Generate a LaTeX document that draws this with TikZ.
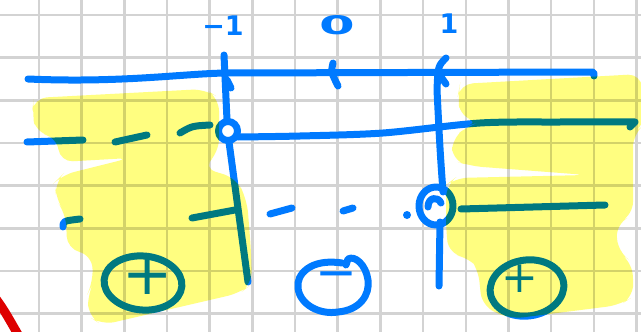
\documentclass[tikz,border=0pt]{standalone}
\usepackage{fontspec}
\setmainfont{DejaVu Sans}
\definecolor{pen}{RGB}{0,122,255}
\definecolor{hl}{RGB}{255,254,128}
\definecolor{gridc}{RGB}{211,211,211}
\definecolor{redpen}{RGB}{222,0,0}
\begin{document}
\begin{tikzpicture}[x=1pt,y=-1pt,
  ink/.style={draw=pen,line width=7pt,line cap=round,line join=round},
  gridline/.style={draw=gridc,line width=2.4pt},
  lbl/.style={text=pen,inner sep=0pt,font=\bfseries\fontsize{27}{30}\selectfont},
  sgn/.style={text=pen,inner sep=0pt},
  hilite/.style={fill=hl,rounded corners=13pt,blend mode=multiply}]
\useasboundingbox (0,0) rectangle (641,332);
\clip (0,0) rectangle (641,332);
\fill[white] (0,0) rectangle (641,332);
% grid paper
\foreach \i in {0,...,14} \draw[gridline] ({39+42.67*\i},-2) -- ({39+42.67*\i},334);
\foreach \j in {0,...,7} \draw[gridline] (-2,{15+42.67*\j}) -- (643,{15+42.67*\j});
% red stroke at corner
\draw[redpen,line width=9pt] (-6,296) .. controls (4,310) .. (20,338);
% labels
\node[lbl] (m1) at (223,26) {−1};
\node[lbl] (zero) at (337,25) {\scalebox{1.9}[0.95]{0}};
\node[lbl] (one) at (449,24) {1};
% number line
\draw[ink] (28,79) .. controls (120,83) and (180,74) .. (225,73) -- (590,72) .. controls (594,72) .. (594,76);
\draw[ink] (333,63) .. controls (331,72) .. (338,86);
% vertical at -1
\draw[ink] (224,55) -- (227,120);
\draw[ink] (227,80) -- (231,88);
\draw[ink] (228,131) circle (9.5);
\draw[ink] (229,142) -- (248,282);
% vertical at 1
\draw[ink] (446,58) .. controls (438,66) .. (437,90) .. controls (440,150) .. (443,192);
\draw[ink] (439,74) -- (446,84);
\draw[ink] (436,206) ellipse [x radius=17, y radius=19];
\draw[ink] (428,207) .. controls (428,197) and (438,196) .. (441,203);
\draw[ink] (440,222) -- (439,286);
% row 1
\draw[ink] (27,142) -- (83,140);
\draw[ink] (115,142) -- (147,135);
\draw[ink] (180,133) .. controls (192,126) .. (210,125);
\draw[ink] plot[smooth] coordinates {(238,137) (300,136) (383,133) (480,123) (560,122) (635,122)} -- (630,127);
% row 2
\draw[ink] (63,227) .. controls (63,221) .. (80,219);
\draw[ink] (192,218) -- (235,210);
\draw[ink] (270,214) -- (292,208);
\draw[ink] (343,211) -- (353,208);
\fill[pen] (407,215) circle (4);
\draw[ink] (461,209) -- (605,205);
% circled signs
\draw[ink] (143,283) ellipse [x radius=39, y radius=27, rotate=-5];
\node[sgn,font=\fontsize{60}{60}\selectfont] (pl) at (148,276) {+};
\draw[ink] (342,263) .. controls (310,258) and (296,275) .. (298,288) .. controls (300,305) and (320,315) .. (338,312) .. controls (360,310) and (370,295) .. (368,280) .. controls (366,265) and (355,255) .. (348,259) -- (346,265);
\node[sgn,font=\fontsize{50}{50}\selectfont] (mi) at (336,281) {−};
\draw[ink] (527,288) ellipse [x radius=37, y radius=28, rotate=8];
\node[sgn,font=\fontsize{44}{44}\selectfont] (pr) at (520,279) {+};
% highlighter
\path[hilite] (34,98) -- (205,89) -- (219,98) -- (219,152) -- (203,168) -- (236,178) -- (247,200) -- (251,250) -- (252,284) -- (240,293) -- (102,325) -- (88,316) -- (88,293) -- (93,283) -- (92,255) -- (67,249) -- (66,214) -- (56,200) -- (55,182) -- (62,175) -- (130,158) -- (60,162) -- (57,137) -- (36,133) -- (32,112) -- cycle;
\path[hilite] (460,84) -- (641,74) -- (645,124) -- (633,134) -- (633,215) -- (616,224) -- (618,252) -- (632,262) -- (634,296) -- (620,305) -- (510,319) -- (482,306) -- (478,268) -- (470,258) -- (449,254) -- (446,230) -- (446,185) -- (455,178) -- (587,175) -- (470,166) -- (452,160) -- (452,138) -- (470,125) -- (480,122) -- (460,117) -- (458,95) -- cycle;
\end{tikzpicture}
\end{document}
